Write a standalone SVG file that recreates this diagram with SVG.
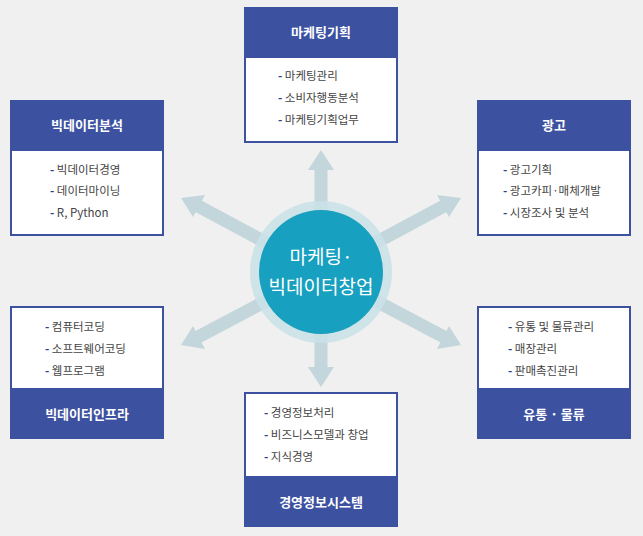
<svg xmlns="http://www.w3.org/2000/svg" width="643" height="536" viewBox="0 0 643 536">
<defs><style>
.hd{fill:#3d51a1}
.bd{fill:#fff;stroke:#3d51a1;stroke-width:2}
.ht{fill:#fff;font-family:"Noto Sans CJK KR","Noto Sans",sans-serif;font-size:13px;font-weight:bold;text-anchor:middle}
.it{fill:#444;font-family:"Noto Sans CJK KR","Noto Sans",sans-serif;font-size:11.5px}
.d{fill:#2c3f8c;font-weight:bold}
.ar{stroke:#c3d6db;stroke-width:13;fill:none}
.ah{fill:#c3d6db}
</style></defs>
<rect width="643" height="536" fill="#f0f0f0"/>
<g id="connectors">
<line class="ar" x1="321" y1="272" x2="321" y2="168"/><polygon class="ah" points="321,150 308,170 334,170"/>
<line class="ar" x1="321" y1="272" x2="321" y2="370"/><polygon class="ah" points="321,387 308,367 334,367"/>
<line class="ar" x1="321" y1="272" x2="198" y2="206"/><polygon class="ah" points="181,198 205,195 193,217"/>
<line class="ar" x1="321" y1="272" x2="444" y2="206"/><polygon class="ah" points="461,198 437,195 449,217"/>
<line class="ar" x1="321" y1="272" x2="198" y2="337"/><polygon class="ah" points="181,345 193,326 205,349"/>
<line class="ar" x1="321" y1="272" x2="444" y2="337"/><polygon class="ah" points="461,345 449,326 437,349"/>
</g>
<g id="center">
<circle cx="321" cy="272" r="71" fill="#c9e2e8" opacity="0.85"/>
<circle cx="321" cy="272" r="62" fill="#17a0bf"/>
<text x="321" y="264" text-anchor="middle" fill="#fff" font-family="Noto Sans CJK KR,sans-serif" font-size="19">마케팅·</text>
<text x="321" y="294" text-anchor="middle" fill="#fff" font-family="Noto Sans CJK KR,sans-serif" font-size="19">빅데이터창업</text>
</g>
<g id="top">
<rect class="bd" x="245" y="57" width="152" height="85"/><rect class="hd" x="244" y="7" width="154" height="50"/>
<text class="ht" x="321" y="37">마케팅기획</text>
<text class="it" x="278" y="80"><tspan class="d">-</tspan>  마케팅관리</text><text class="it" x="278" y="102"><tspan class="d">-</tspan>  소비자행동분석</text><text class="it" x="278" y="124"><tspan class="d">-</tspan>  마케팅기획업무</text>
</g>
<g id="lt">
<rect class="bd" x="11" y="150" width="152" height="85"/><rect class="hd" x="10" y="100" width="154" height="50"/>
<text class="ht" x="87" y="130">빅데이터분석</text>
<text class="it" x="50" y="174"><tspan class="d">-</tspan>  빅데이터경영</text><text class="it" x="50" y="195"><tspan class="d">-</tspan>  데이터마이닝</text><text class="it" x="50" y="217"><tspan class="d">-</tspan>  R, Python</text>
</g>
<g id="rt">
<rect class="bd" x="478" y="150" width="152" height="85"/><rect class="hd" x="477" y="100" width="154" height="50"/>
<text class="ht" x="554" y="130">광고</text>
<text class="it" x="503" y="174"><tspan class="d">-</tspan>  광고기획</text><text class="it" x="503" y="195"><tspan class="d">-</tspan>  광고카피·매체개발</text><text class="it" x="503" y="217"><tspan class="d">-</tspan>  시장조사 및 분석</text>
</g>
<g id="lb">
<rect class="bd" x="11" y="307" width="152" height="82"/><rect class="hd" x="10" y="389" width="154" height="50"/>
<text class="ht" x="87" y="419">빅데이터인프라</text>
<text class="it" x="45" y="331"><tspan class="d">-</tspan>  컴퓨터코딩</text><text class="it" x="45" y="353"><tspan class="d">-</tspan>  소프트웨어코딩</text><text class="it" x="45" y="375"><tspan class="d">-</tspan>  웹프로그램</text>
</g>
<g id="rb">
<rect class="bd" x="478" y="307" width="152" height="82"/><rect class="hd" x="477" y="389" width="154" height="50"/>
<text class="ht" x="554" y="419">유통 · 물류</text>
<text class="it" x="508" y="331"><tspan class="d">-</tspan>  유통 및 물류관리</text><text class="it" x="508" y="353"><tspan class="d">-</tspan>  매장관리</text><text class="it" x="508" y="375"><tspan class="d">-</tspan>  판매촉진관리</text>
</g>
<g id="bottom">
<rect class="bd" x="245" y="393" width="152" height="84"/><rect class="hd" x="244" y="477" width="154" height="50"/>
<text class="ht" x="321" y="507">경영정보시스템</text>
<text class="it" x="264" y="417"><tspan class="d">-</tspan>  경영정보처리</text><text class="it" x="264" y="439"><tspan class="d">-</tspan>  비즈니스모델과 창업</text><text class="it" x="264" y="461"><tspan class="d">-</tspan>  지식경영</text>
</g>
</svg>
